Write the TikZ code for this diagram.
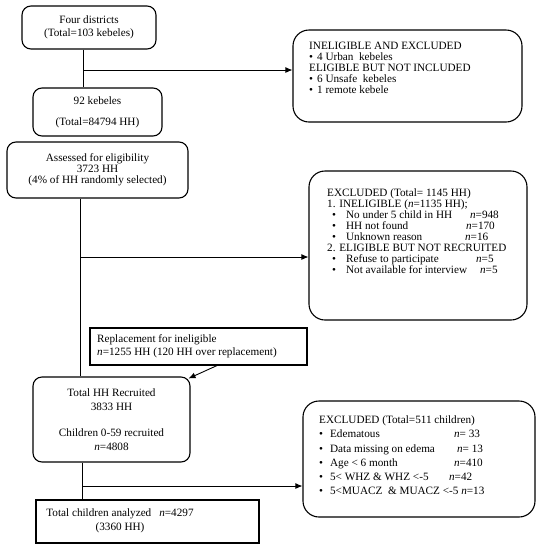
\documentclass[tikz,border=0pt]{standalone}
\usepackage{fontspec}
\setmainfont{Liberation Serif}
\usetikzlibrary{arrows.meta}
\begin{document}
\begin{tikzpicture}[x=1pt,y=-1pt,
  every node/.style={font=\fontsize{11.2}{13}\selectfont},
  rbox/.style={draw, line width=1.1pt, rounded corners=9pt, inner sep=0pt, align=center},
  bigrbox/.style={draw, line width=1.1pt, rounded corners=16pt, inner sep=0pt},
  sbox/.style={draw, line width=1.1pt, inner sep=0pt},
  txt/.style={inner sep=0pt, align=left, anchor=north west},
  conn/.style={line width=0.9pt},
  arr/.style={conn, -{Latex[length=7pt,width=6pt]}}]
\useasboundingbox (0,0) rectangle (538,550);
% boxes
\node[rbox, minimum width=134pt, minimum height=43pt] (b1) at (89,27.5) {Four districts\\(Total=103 kebeles)};
\node[rbox, minimum width=129pt, minimum height=48pt] (b2) at (97.5,112) {92 kebeles\\[8pt](Total=84794 HH)};
\node[rbox, minimum width=181pt, minimum height=56pt, font=\fontsize{11.2}{11}\selectfont] (b4) at (97.5,170) {Assessed for eligibility\\3723 HH\\(4\% of HH randomly selected)};
\node[rbox, minimum width=157pt, minimum height=85pt, font=\fontsize{11.2}{14}\selectfont] (b6) at (111.5,419.5) {Total HH Recruited\\3833 HH\\[12pt]Children 0-59 recruited\\\textit{n}=4808};
\node[sbox, minimum width=217pt, minimum height=37pt] (rep) at (198.5,346.5) {};
\node[txt, anchor=west] (reptxt) at (97,346.5) {Replacement for ineligible\\ \textit{n}=1255 HH (120 HH over replacement)};
\node[sbox, minimum width=223pt, minimum height=43pt] (b8) at (147.5,521.5) {};
\node[inner sep=0pt, align=center, font=\fontsize{11.2}{14}\selectfont] (b8txt) at (120,520.5) {Total children analyzed\hspace{8pt}\textit{n}=4297\\(3360 HH)};
% right boxes
\node[bigrbox, minimum width=229pt, minimum height=92pt] (b3) at (407.5,76) {};
\node[txt, font=\fontsize{11.2}{11}\selectfont] (b3txt) at (309,42) {INELIGIBLE AND EXCLUDED\\
\textbullet\hspace{4pt}4 Urban\ \ kebeles\\
ELIGIBLE BUT NOT INCLUDED\\
\textbullet\hspace{4pt}6 Unsafe\ \ kebeles\\
\textbullet\hspace{4pt}1 remote kebele};
\node[bigrbox, minimum width=218pt, minimum height=149pt] (b5) at (418,245.5) {};
\node[txt, font=\fontsize{11.2}{10.9}\selectfont] (b5txt) at (327,189) {EXCLUDED (Total= 1145 HH)\\
1. INELIGIBLE (\textit{n}=1135 HH);\\
\hspace*{5pt}\textbullet\hspace{10pt}\makebox[124pt][l]{No under 5 child in HH}\textit{n}=948\\
\hspace*{5pt}\textbullet\hspace{10pt}\makebox[120pt][l]{HH not found}\textit{n}=170\\
\hspace*{5pt}\textbullet\hspace{10pt}\makebox[119pt][l]{Unknown reason}\textit{n}=16\\
2. ELIGIBLE BUT NOT RECRUITED\\
\hspace*{5pt}\textbullet\hspace{10pt}\makebox[130pt][l]{Refuse to participate}\textit{n}=5\\
\hspace*{5pt}\textbullet\hspace{10pt}\makebox[134pt][l]{Not available for interview}\textit{n}=5};
\node[bigrbox, minimum width=232pt, minimum height=116pt] (b7) at (419,459) {};
\node[txt, font=\fontsize{11.2}{14.3}\selectfont] (b7txt) at (319,415.5) {EXCLUDED (Total=511 children)\\
\textbullet\hspace{7pt}\makebox[124pt][l]{Edematous}\textit{n}= 33\\
\textbullet\hspace{7pt}\makebox[127pt][l]{Data missing on edema}\textit{n}= 13\\
\textbullet\hspace{7pt}\makebox[124pt][l]{Age < 6 month}\textit{n}=410\\
\textbullet\hspace{7pt}\makebox[119pt][l]{5< WHZ \& WHZ <-5}\textit{n}=42\\
\textbullet\hspace{7pt}5<MUACZ\ \ \& MUACZ <-5\ \textit{n}=13};
% connectors
\coordinate (j1) at (83,70);
\coordinate (j2) at (80,257);
\coordinate (j3) at (82,486);
\draw[conn] (b1.south -| j1) -- (b2.north -| j1);
\draw[arr] (j1) -- (j1 -| b3.west);
\draw[conn] (b4.south -| j2) -- (b6.north -| j2);
\draw[arr] (j2) -- (j2 -| b5.west);
\draw[arr] ([xshift=18.5pt]rep.south) -- ([xshift=-2pt, yshift=-2pt]b6.north east);
\draw[conn] (b6.south -| j3) -- (b8.north -| j3);
\draw[arr] (j3) -- (j3 -| b7.west);
\end{tikzpicture}
\end{document}
